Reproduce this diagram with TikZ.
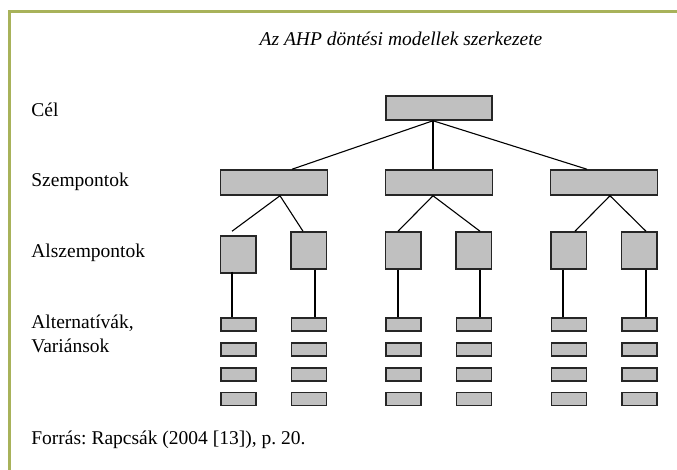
\documentclass[tikz,border=0pt]{standalone}
\usepackage{fontspec}
\setmainfont{Liberation Serif}
\usepackage{tikz}
\usetikzlibrary{positioning}
\definecolor{frameolive}{RGB}{168,178,90}
\definecolor{boxgray}{RGB}{192,192,192}
\frenchspacing

\begin{document}
\begin{tikzpicture}[
  x=0.5pt, y=-0.5pt,
  font=\fontsize{9.75}{12}\selectfont,
  levellabel/.style={
    anchor=base west,
    align=left,
    inner sep=0pt
  },
  goalbox/.style={
    draw=black!85,
    fill=boxgray,
    line width=0.75pt,
    inner sep=0pt,
    minimum width=53pt,
    minimum height=12pt
  },
  critbox/.style={
    goalbox,
    minimum width=53.5pt,
    minimum height=12.5pt
  },
  subbox/.style={
    goalbox,
    minimum width=17.75pt,
    minimum height=18.5pt
  },
  altbox/.style={
    goalbox,
    minimum width=17.5pt,
    minimum height=6.5pt
  },
  link/.style={
    draw=black,
    line width=0.55pt
  }
]

\useasboundingbox (0,0) rectangle (677,470);

% Frame
\draw[frameolive, line width=1.6pt] (9.5,470) -- (9.5,11.5) -- (677,11.5);

% Title
\node[font=\fontsize{9.75}{12}\selectfont\itshape, anchor=base, inner sep=0pt]
  (title) at (401,46) {Az AHP döntési modellek szerkezete};

% Level labels
\node[levellabel] (lcel) at (31,117) {Cél};
\node[levellabel] (lszemp) at (31,187) {Szempontok};
\node[levellabel] (lalsz) at (31,258) {Alszempontok};
\node[levellabel] (lalt) at (31,353) {Alternatívák,\\Variánsok};

% ---------------- Goal and criteria ----------------
\node[goalbox] (goal) at (439,108) {};

\node[critbox] (crit1) at (274,182.5) {};
\node[critbox] (crit2) at (439,182.5) {};
\node[critbox] (crit3) at (604,182.5) {};

% ---------------- Sub-criteria ----------------
\node[subbox] (sub1) at (238.5,254.5) {};
\node[subbox] (sub2) at (309,250.5) {};
\node[subbox] (sub3) at (403.5,250.5) {};
\node[subbox] (sub4) at (474,250.5) {};
\node[subbox] (sub5) at (569,250.5) {};
\node[subbox] (sub6) at (639.5,250.5) {};

% ---------------- Alternatives ----------------
\node[altbox] (alt11) at (238.5,324.5) {};
\node[altbox] (alt12) at (238.5,349.5) {};
\node[altbox] (alt13) at (238.5,374.5) {};
\node[altbox] (alt14) at (238.5,399) {};

\node[altbox] (alt21) at (309,324.5) {};
\node[altbox] (alt22) at (309,349.5) {};
\node[altbox] (alt23) at (309,374.5) {};
\node[altbox] (alt24) at (309,399) {};

\node[altbox] (alt31) at (403.5,324.5) {};
\node[altbox] (alt32) at (403.5,349.5) {};
\node[altbox] (alt33) at (403.5,374.5) {};
\node[altbox] (alt34) at (403.5,399) {};

\node[altbox] (alt41) at (474,324.5) {};
\node[altbox] (alt42) at (474,349.5) {};
\node[altbox] (alt43) at (474,374.5) {};
\node[altbox] (alt44) at (474,399) {};

\node[altbox] (alt51) at (569,324.5) {};
\node[altbox] (alt52) at (569,349.5) {};
\node[altbox] (alt53) at (569,374.5) {};
\node[altbox] (alt54) at (569,399) {};

\node[altbox] (alt61) at (639.5,324.5) {};
\node[altbox] (alt62) at (639.5,349.5) {};
\node[altbox] (alt63) at (639.5,374.5) {};
\node[altbox] (alt64) at (639.5,399) {};

% ---------------- Connectors ----------------
\coordinate (hub) at ([xshift=-3pt]goal.south);
\draw[link] (hub) -- ([xshift=9pt]crit1.north);
\draw[link] (hub) -- ([xshift=-3pt]crit2.north);
\draw[link] (hub) -- ([xshift=-8.5pt]crit3.north);

\draw[link] ([xshift=3pt]crit1.south) -- ([xshift=-3.25pt,yshift=2pt]sub1.north);
\draw[link] ([xshift=3pt]crit1.south) -- ([xshift=-3pt]sub2.north);
\draw[link] ([xshift=-3pt]crit2.south) -- ([xshift=-2.75pt]sub3.north);
\draw[link] ([xshift=-3pt]crit2.south) -- ([xshift=3pt]sub4.north);
\draw[link] ([xshift=3pt]crit3.south) -- ([xshift=3pt]sub5.north);
\draw[link] ([xshift=3pt]crit3.south) -- ([xshift=3.25pt]sub6.north);

\draw[link] ([xshift=-3.25pt,yshift=1pt]sub1.south) -- ([xshift=-3.25pt]alt11.north);
\draw[link] ([xshift=3pt]sub2.south) -- ([xshift=3pt]alt21.north);
\draw[link] ([xshift=-2.75pt]sub3.south) -- ([xshift=-2.75pt]alt31.north);
\draw[link] ([xshift=3pt]sub4.south) -- ([xshift=3pt]alt41.north);
\draw[link] ([xshift=-3pt]sub5.south) -- ([xshift=-3pt]alt51.north);
\draw[link] ([xshift=3.25pt]sub6.south) -- ([xshift=3.25pt]alt61.north);

% Source
\node[levellabel] (source) at (31,445) {Forrás: Rapcsák (2004 [13]), p. 20.};

\end{tikzpicture}
\end{document}
